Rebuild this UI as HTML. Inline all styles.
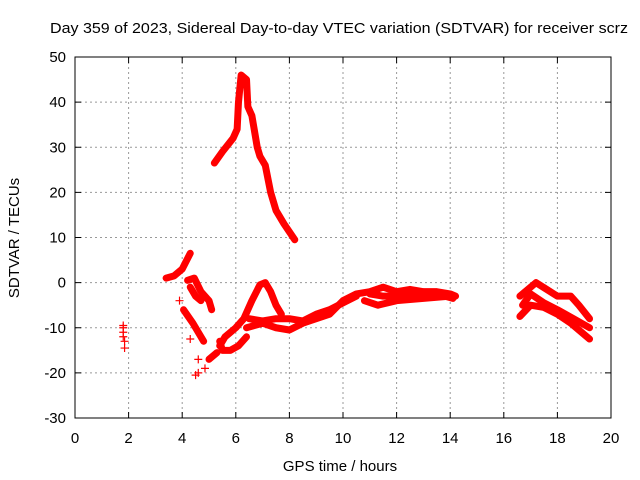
<!DOCTYPE html>
<html><head><meta charset="utf-8"><style>
body{margin:0;background:#fff;}
svg{display:block;font-family:"Liberation Sans",sans-serif;font-size:15px;}
</style></head><body>
<svg id="c" width="640" height="480">
<text x="339" y="33" text-anchor="middle" textLength="578" lengthAdjust="spacingAndGlyphs">Day 359 of 2023, Sidereal Day-to-day VTEC variation (SDTVAR) for receiver scrz</text>
<text x="340" y="471" text-anchor="middle">GPS time / hours</text>
<text transform="translate(19,238) rotate(-90)" text-anchor="middle">SDTVAR / TECUs</text>
<g id="grid"></g><g id="marks"></g>
<rect x="75" y="57" width="536" height="361" fill="none" stroke="#000"/>
</svg>
<script>
const xTicks=[0,2,4,6,8,10,12,14,16,18,20];
const yTicks=[-30,-20,-10,0,10,20,30,40,50];
const peakTrack=[[5.2,26.5],[5.5,29],[5.9,32],[6.05,34],[6.1,40],[6.2,46],[6.4,45],[6.45,39],[6.6,37],[6.8,30],[6.9,28],[7.1,26],[7.3,20],[7.5,16],[7.8,13],[8.2,9.5]];
const riseTrack=[[3.4,1],[3.7,1.5],[4.0,3],[4.3,6.5]];
const loopTrack=[[4.2,0.5],[4.45,1],[4.7,-2],[5.0,-4],[5.1,-6]];
const loopBranch=[[4.3,-1],[4.5,-3],[4.7,-4]];
const fallTrack=[[4.05,-6],[4.4,-9],[4.8,-13]];
const shortTrack=[[5.0,-17],[5.3,-15.5]];
const lowerLoop=[[5.4,-13],[5.5,-15],[5.8,-15],[6.1,-14],[6.4,-12]];
const humpTrack=[[5.4,-14],[5.6,-12],[5.8,-11],[6.0,-10],[6.3,-8],[6.6,-4],[6.9,-0.5],[7.1,0],[7.3,-2],[7.5,-5],[7.7,-7]];
const mainTrack=[[6.4,-10],[7.0,-9],[7.5,-10],[8.0,-10.5],[8.5,-9],[9,-8],[9.5,-7],[10,-4],[10.5,-2.5],[11,-2],[11.5,-1],[12,-2],[12.5,-1.5],[13,-2],[13.5,-2],[14,-2.5],[14.2,-3]];
const midTrack=[[6.5,-8],[7,-8.5],[7.5,-8],[8,-8],[8.5,-8.5],[9,-7],[9.5,-6],[10,-4.5],[10.5,-3]];
const branchTrack=[[10.8,-4],[11.3,-5],[12,-4],[13,-3.5],[14,-3]];
const bandTrack=[[11,-2.5],[11.5,-3],[12,-3],[12.5,-2.5],[13,-3],[13.5,-2.5],[14.1,-3.5]];
const rightUpper=[[16.6,-3],[17,-1],[17.2,0],[17.6,-1.5],[18,-3],[18.5,-3],[18.8,-5],[19.2,-8]];
const rightMid=[[16.7,-5],[17,-2.5],[17.5,-4.5],[18,-6],[18.6,-8],[19.2,-10]];
const rightLower=[[16.6,-7.5],[17,-5],[17.5,-5.5],[18,-7],[18.5,-9],[19.2,-12.5]];
const isoPoints=[[1.8,-9.5],[1.8,-10],[1.8,-11],[1.8,-12],[1.85,-13],[1.85,-14.5],[3.9,-4],[4.3,-12.5],[4.6,-17],[4.85,-19],[4.5,-20.5],[4.6,-20]];
const tracks=[peakTrack,riseTrack,loopTrack,loopBranch,fallTrack,shortTrack,lowerLoop,humpTrack,mainTrack,midTrack,branchTrack,bandTrack,rightUpper,rightMid,rightLower];
const NS="http://www.w3.org/2000/svg";
const px=x=>75+x*26.8, py=y=>57+(50-y)*4.5125;
const grid=document.getElementById('grid'), marks=document.getElementById('marks');
function mk(tag,attrs,parent){const e=document.createElementNS(NS,tag);for(const k in attrs)e.setAttribute(k,attrs[k]);parent.appendChild(e);return e;}
xTicks.forEach(t=>{const X=px(t);
 if(t>0&&t<20){const l=mk('line',{x1:X,x2:X,y1:57,y2:418,stroke:'#999','stroke-dasharray':'2,3'},grid);
 
 }
 mk('line',{x1:X,x2:X,y1:418,y2:412,stroke:'#000'},grid);mk('line',{x1:X,x2:X,y1:57,y2:63,stroke:'#000'},grid);
 const tx=mk('text',{x:X,y:443,'text-anchor':'middle'},grid);tx.textContent=t;
 
 });
yTicks.forEach(t=>{const Y=py(t);
 if(t>-30&&t<50){const l=mk('line',{x1:75,x2:611,y1:Y,y2:Y,stroke:'#999','stroke-dasharray':'2,3'},grid);
 
 }
 mk('line',{x1:75,x2:81,y1:Y,y2:Y,stroke:'#000'},grid);mk('line',{x1:611,x2:605,y1:Y,y2:Y,stroke:'#000'},grid);
 const tx=mk('text',{x:66,y:Y+5,'text-anchor':'end'},grid);tx.textContent=t;
 
 });
tracks.forEach(tr=>{const p=mk('polyline',{points:tr.map(d=>px(d[0])+','+py(d[1])).join(' '),fill:'none',stroke:'#f00','stroke-width':7,'stroke-linejoin':'round','stroke-linecap':'round'},marks);
 
 });
isoPoints.forEach(d=>{const X=px(d[0]),Y=py(d[1]);
 const p=mk('path',{d:`M${X-4},${Y}H${X+4}M${X},${Y-4}V${Y+4}`,stroke:'#f00','stroke-width':1.2},marks);
 
 });
</script>
</body></html>
